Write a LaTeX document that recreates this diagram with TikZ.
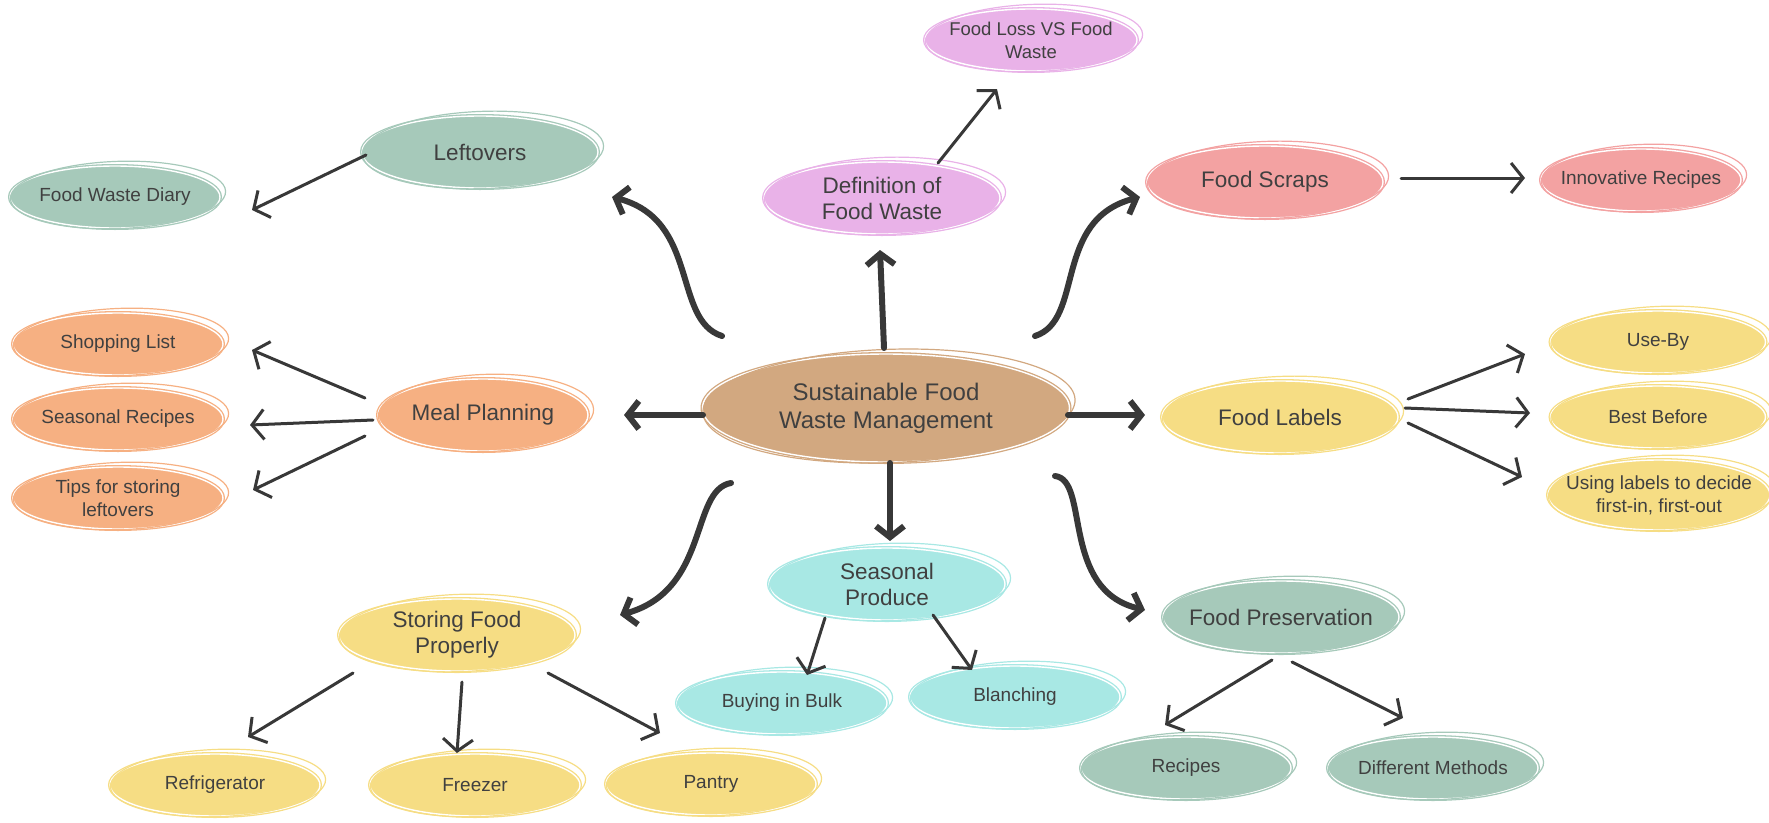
\documentclass[tikz,border=0pt]{standalone}
\usepackage{fontspec}
\setmainfont{Liberation Sans}
\usetikzlibrary{arrows.meta,shapes.geometric,calc}

\definecolor{ink}{RGB}{64,64,64}
\definecolor{arrowgray}{RGB}{56,56,56}
\definecolor{hubtan}{RGB}{210,168,128}
\definecolor{lilac}{RGB}{233,178,232}
\definecolor{sage}{RGB}{166,201,186}
\definecolor{salmon}{RGB}{243,162,162}
\definecolor{peach}{RGB}{246,176,130}
\definecolor{butter}{RGB}{246,221,132}
\definecolor{aqua}{RGB}{168,232,228}

\tikzset{
  blob/.style={ellipse, draw=#1, fill=#1, double=white, double distance=1.4pt,
    line width=1.3pt, inner xsep=-20pt, inner ysep=-8pt, align=center, text=ink},
  mainblob/.style={blob=#1, minimum width=236pt, minimum height=72pt,
    font=\fontsize{22.5}{26}\selectfont},
  leafblob/.style={blob=#1, minimum width=210pt, minimum height=62pt,
    font=\fontsize{19}{23}\selectfont},
  thin arrow/.style={draw=arrowgray, line width=3pt, line cap=round,
    -{Straight Barb[length=12pt,width=30pt]}},
  thick arrow/.style={draw=arrowgray, line width=6pt, line cap=round,
    -{Straight Barb[length=11pt,width=28pt]}}
}

\begin{document}
\begin{tikzpicture}[x=1pt, y=-1pt]
\useasboundingbox (0,0) rectangle (1769,822);

% hub
\node[blob=hubtan, minimum width=367pt, minimum height=108pt,
  font=\fontsize{24}{28}\selectfont] (hub) at (886,408) {Sustainable Food\\Waste Management};

% main topics
\node[mainblob=lilac] (def) at (882,198) {Definition of\\Food Waste};
\node[mainblob=sage] (leftovers) at (480,152) {Leftovers};
\node[mainblob=salmon] (scraps) at (1265,182) {Food Scraps};
\node[mainblob=peach, minimum width=210pt] (meal) at (483,415) {Meal Planning};
\node[mainblob=butter] (labels) at (1280,417) {Food Labels};
\node[mainblob=butter] (storing) at (457,635) {Storing Food\\Properly};
\node[mainblob=aqua] (seaprod) at (887,584) {Seasonal\\Produce};
\node[mainblob=sage] (preserv) at (1281,617) {Food Preservation};

% leaves
\node[leafblob=lilac, minimum width=212pt, font=\fontsize{18.5}{23}\selectfont] (loss) at (1031,40) {Food Loss VS Food\\Waste};
\node[leafblob=sage] (diary) at (115,197) {Food Waste Diary};
\node[leafblob=salmon, minimum width=200pt] (innov) at (1641,180) {Innovative Recipes};
\node[leafblob=peach] (shop) at (118,344) {Shopping List};
\node[leafblob=peach] (seasrec) at (118,419) {Seasonal Recipes};
\node[leafblob=peach] (tips) at (118,498) {Tips for storing\\leftovers};
\node[leafblob=butter, minimum width=215pt] (useby) at (1658,342) {Use-By};
\node[leafblob=butter, minimum width=215pt] (best) at (1658,417) {Best Before};
\node[leafblob=butter, minimum width=222pt, minimum height=70pt] (using) at (1659,495) {Using labels to decide\\first-in, first-out};
\node[leafblob=butter] (fridge) at (215,785) {Refrigerator};
\node[leafblob=butter] (freezer) at (475,785) {Freezer};
\node[leafblob=butter] (pantry) at (711,784) {Pantry};
\node[leafblob=aqua] (bulk) at (782,703) {Buying in Bulk};
\node[leafblob=aqua] (blanch) at (1015,697) {Blanching};
\node[leafblob=sage] (recipes) at (1186,768) {Recipes};
\node[leafblob=sage] (methods) at (1433,768) {Different Methods};

% hand-drawn second outline
\foreach \nd/\c in {hub/hubtan, def/lilac, leftovers/sage, scraps/salmon, meal/peach,
    labels/butter, storing/butter, seaprod/aqua, preserv/sage, loss/lilac, diary/sage,
    innov/salmon, shop/peach, seasrec/peach, tips/peach, useby/butter, best/butter,
    using/butter, fridge/butter, freezer/butter, pantry/butter, bulk/aqua, blanch/aqua,
    recipes/sage, methods/sage}
  \draw[\c, line width=1.2pt] let \p1=(\nd.center), \p2=(\nd.east), \p3=(\nd.north) in
    ($(\p1)+(3,-2)$) ellipse [x radius={\x2-\x1+2pt}, y radius={\y3-\y1+2pt}, rotate=2];

% hub to main topics
\draw[thick arrow] ([shift={(-2,-60)}]hub.center) -- ([shift={(-2,52)}]def.center);
\draw[thick arrow] ([shift={(-183,7)}]hub.center) -- ([shift={(141,0)}]meal.center);
\draw[thick arrow] ([shift={(182,7)}]hub.center) -- ([shift={(-135,-2)}]labels.center);
\draw[thick arrow] ([shift={(4,55)}]hub.center) -- ([shift={(3,-43)}]seaprod.center);
\draw[thick arrow] ([shift={(-164,-72)}]hub.center) .. controls +(-50,-16) and +(88,23) .. ([shift={(132,45)}]leftovers.center);
\draw[thick arrow] ([shift={(149,-72)}]hub.center) .. controls +(50,-16) and +(-88,23) .. ([shift={(-125,15)}]scraps.center);
\draw[thick arrow] ([shift={(-155,75)}]hub.center) .. controls +(-41,7) and +(90,-25) .. ([shift={(163,-20)}]storing.center);
\draw[thick arrow] ([shift={(169,68)}]hub.center) .. controls +(35,4) and +(-85,-20) .. ([shift={(-136,-7)}]preserv.center);

% main topics to leaves
\draw[thin arrow] ([shift={(56,-35)}]def.center) -- ([shift={(-34,49)}]loss.center);
\draw[thin arrow] ([shift={(-114,3)}]leftovers.center) -- ([shift={(137,13)}]diary.center);
\draw[thin arrow] ([shift={(136,-4)}]scraps.center) -- ([shift={(-116,-2)}]innov.center);
\draw[thin arrow] ([shift={(-118,-17)}]meal.center) -- ([shift={(134,6)}]shop.center);
\draw[thin arrow] ([shift={(-110,5)}]meal.center) -- ([shift={(132,6)}]seasrec.center);
\draw[thin arrow] ([shift={(-118,21)}]meal.center) -- ([shift={(135,-8)}]tips.center);
\draw[thin arrow] ([shift={(128,-18)}]labels.center) -- ([shift={(-133,12)}]useby.center);
\draw[thin arrow] ([shift={(125,-9)}]labels.center) -- ([shift={(-128,-4)}]best.center);
\draw[thin arrow] ([shift={(128,6)}]labels.center) -- ([shift={(-137,-18)}]using.center);
\draw[thin arrow] ([shift={(-104,38)}]storing.center) -- ([shift={(33,-48)}]fridge.center);
\draw[thin arrow] ([shift={(5,47)}]storing.center) -- ([shift={(-18,-32)}]freezer.center);
\draw[thin arrow] ([shift={(91,38)}]storing.center) -- ([shift={(-51,-51)}]pantry.center);
\draw[thin arrow] ([shift={(-62,34)}]seaprod.center) -- ([shift={(25,-28)}]bulk.center);
\draw[thin arrow] ([shift={(46,31)}]seaprod.center) -- ([shift={(-43,-27)}]blanch.center);
\draw[thin arrow] ([shift={(-9,43)}]preserv.center) -- ([shift={(-21,-43)}]recipes.center);
\draw[thin arrow] ([shift={(11,45)}]preserv.center) -- ([shift={(-30,-50)}]methods.center);
\end{tikzpicture}
\end{document}
